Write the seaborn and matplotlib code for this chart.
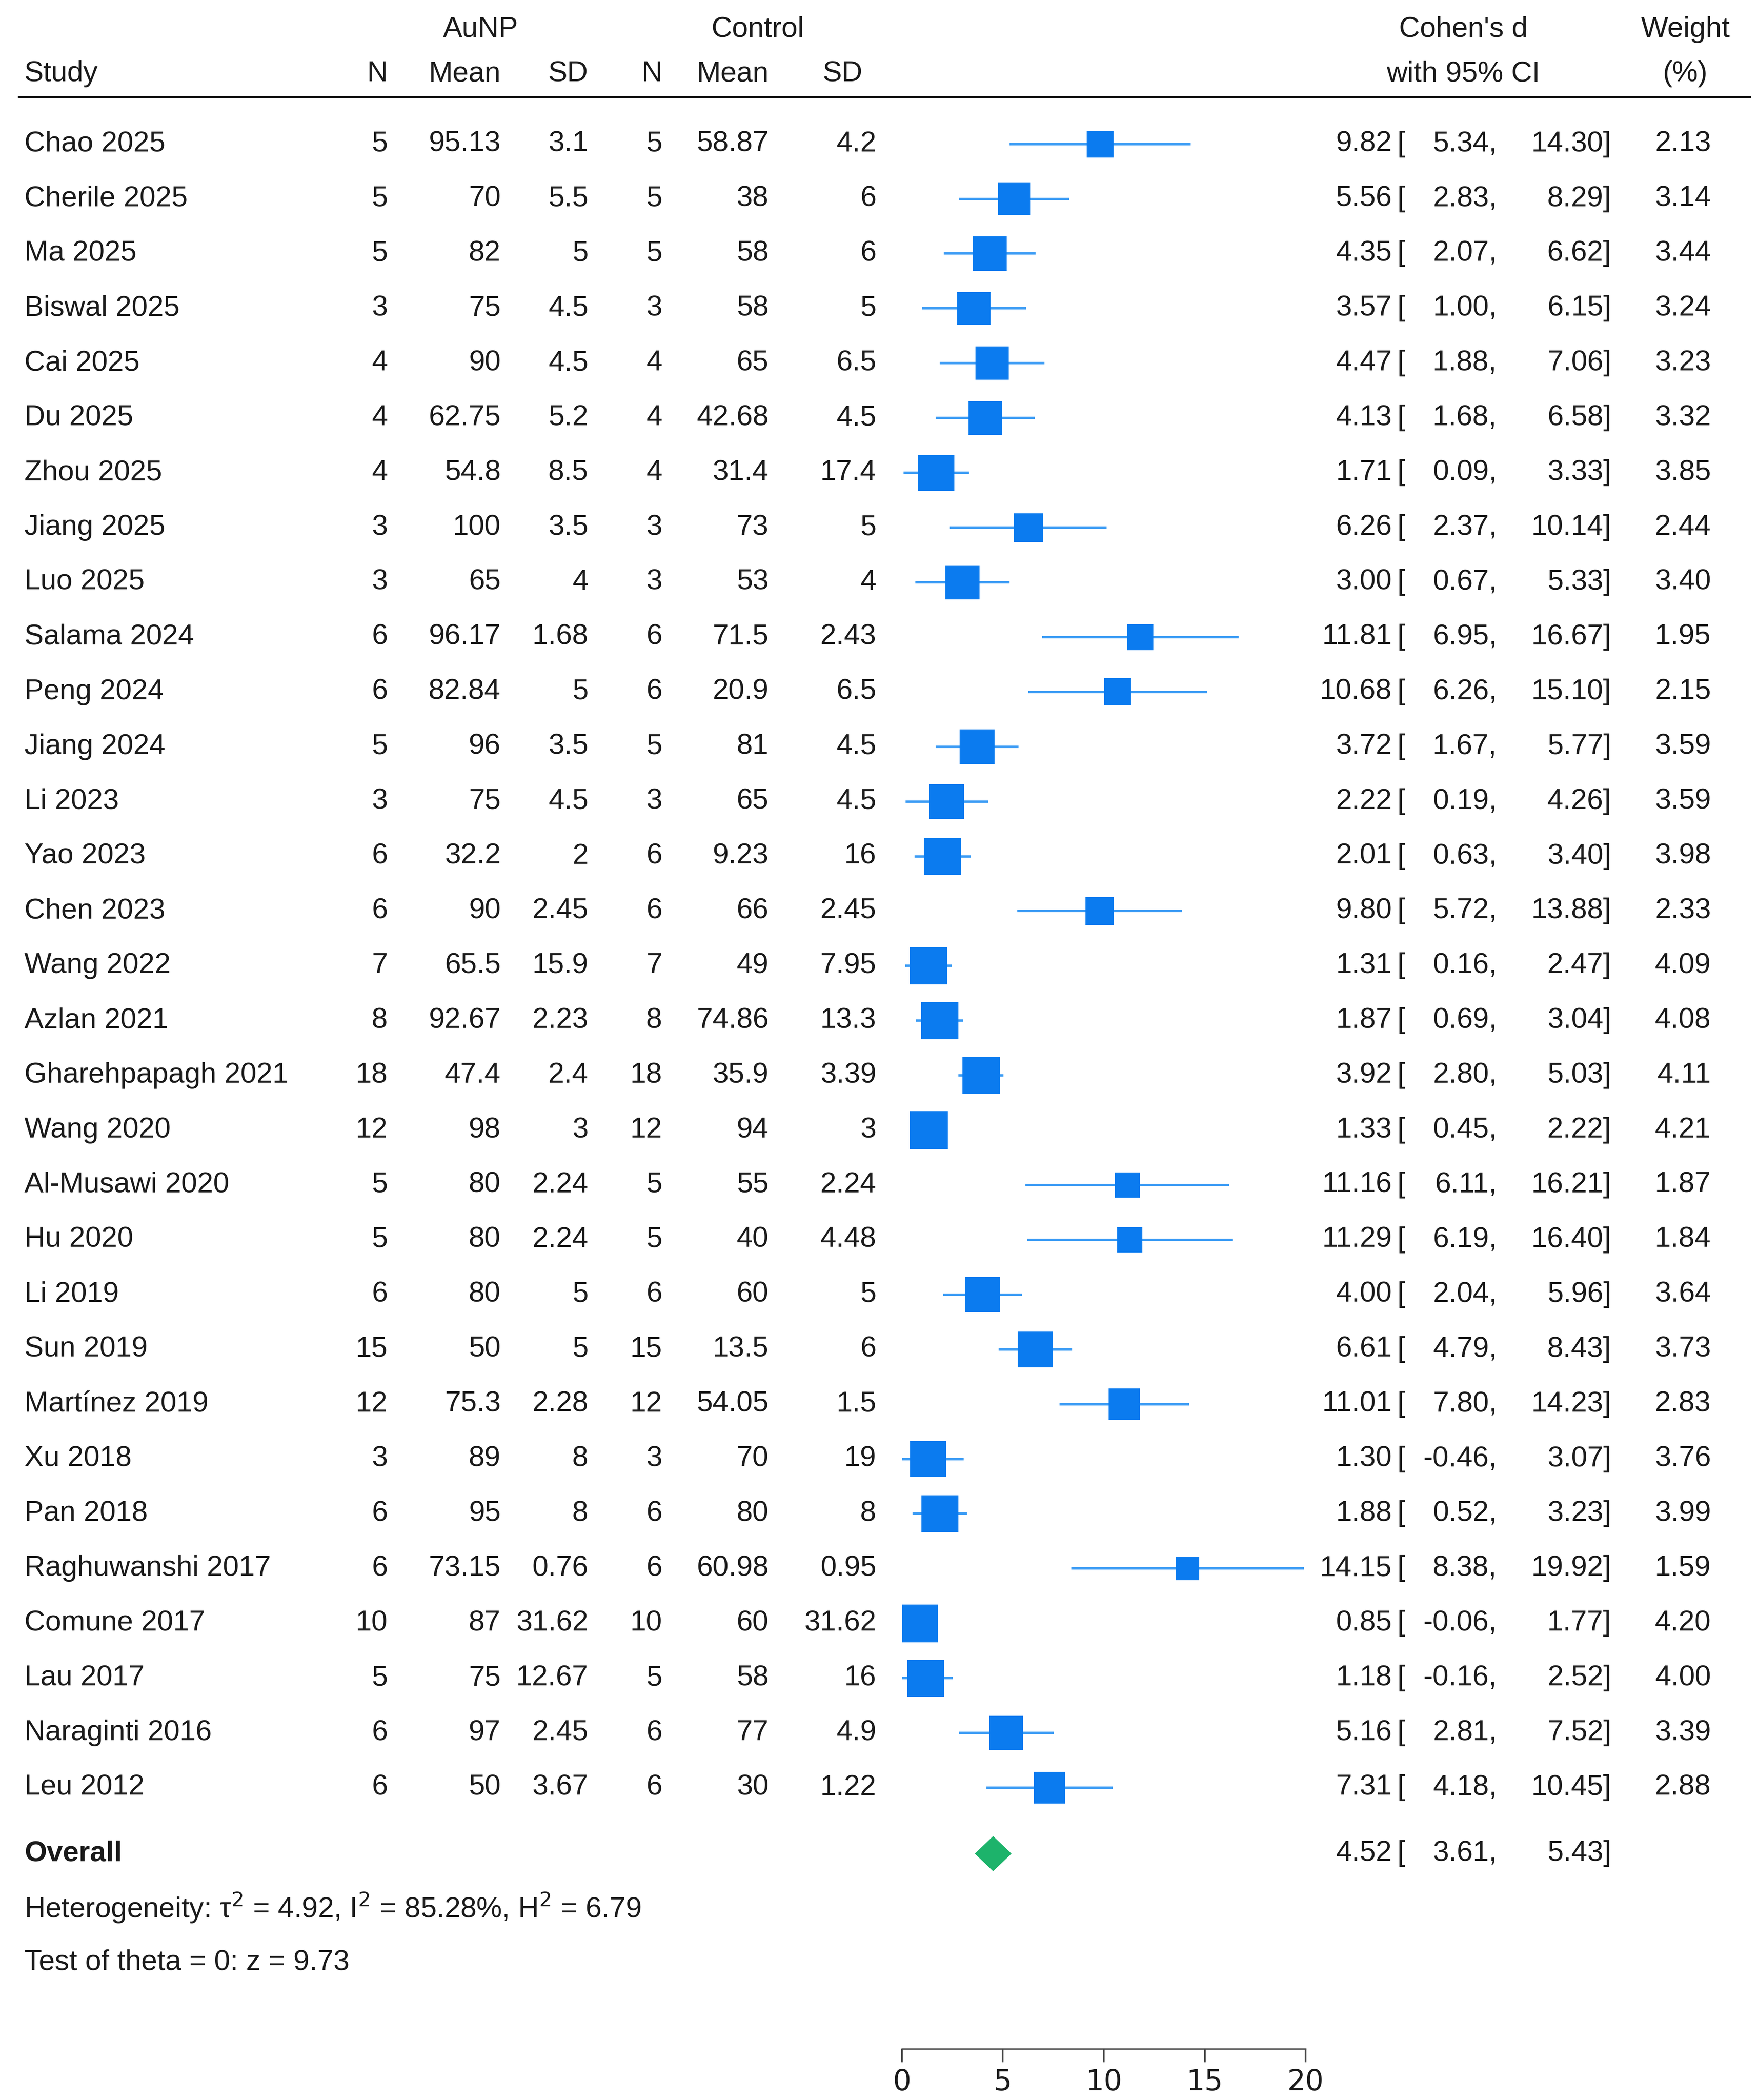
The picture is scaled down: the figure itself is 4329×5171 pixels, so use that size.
import matplotlib
matplotlib.use("Agg")
import matplotlib.pyplot as plt
import matplotlib.transforms as mtransforms
import seaborn as sns
import pandas as pd

studies = ["Chao 2025", "Cherile 2025", "Ma 2025", "Biswal 2025", "Cai 2025", "Du 2025", "Zhou 2025",
           "Jiang 2025", "Luo 2025", "Salama 2024", "Peng 2024", "Jiang 2024", "Li 2023", "Yao 2023",
           "Chen 2023", "Wang 2022", "Azlan 2021", "Gharehpapagh 2021", "Wang 2020", "Al-Musawi 2020",
           "Hu 2020", "Li 2019", "Sun 2019", "Martínez 2019", "Xu 2018", "Pan 2018", "Raghuwanshi 2017",
           "Comune 2017", "Lau 2017", "Naraginti 2016", "Leu 2012"]
n_t = ["5", "5", "5", "3", "4", "4", "4", "3", "3", "6", "6", "5", "3", "6", "6", "7", "8", "18", "12",
       "5", "5", "6", "15", "12", "3", "6", "6", "10", "5", "6", "6"]
mean_t = ["95.13", "70", "82", "75", "90", "62.75", "54.8", "100", "65", "96.17", "82.84", "96", "75",
          "32.2", "90", "65.5", "92.67", "47.4", "98", "80", "80", "80", "50", "75.3", "89", "95",
          "73.15", "87", "75", "97", "50"]
sd_t = ["3.1", "5.5", "5", "4.5", "4.5", "5.2", "8.5", "3.5", "4", "1.68", "5", "3.5", "4.5", "2",
        "2.45", "15.9", "2.23", "2.4", "3", "2.24", "2.24", "5", "5", "2.28", "8", "8", "0.76",
        "31.62", "12.67", "2.45", "3.67"]
n_c = n_t
mean_c = ["58.87", "38", "58", "58", "65", "42.68", "31.4", "73", "53", "71.5", "20.9", "81", "65",
          "9.23", "66", "49", "74.86", "35.9", "94", "55", "40", "60", "13.5", "54.05", "70", "80",
          "60.98", "60", "58", "77", "30"]
sd_c = ["4.2", "6", "6", "5", "6.5", "4.5", "17.4", "5", "4", "2.43", "6.5", "4.5", "4.5", "16",
        "2.45", "7.95", "13.3", "3.39", "3", "2.24", "4.48", "5", "6", "1.5", "19", "8", "0.95",
        "31.62", "16", "4.9", "1.22"]
d = [9.82, 5.56, 4.35, 3.57, 4.47, 4.13, 1.71, 6.26, 3.00, 11.81, 10.68, 3.72, 2.22, 2.01, 9.80,
     1.31, 1.87, 3.92, 1.33, 11.16, 11.29, 4.00, 6.61, 11.01, 1.30, 1.88, 14.15, 0.85, 1.18, 5.16, 7.31]
lo = [5.34, 2.83, 2.07, 1.00, 1.88, 1.68, 0.09, 2.37, 0.67, 6.95, 6.26, 1.67, 0.19, 0.63, 5.72,
      0.16, 0.69, 2.80, 0.45, 6.11, 6.19, 2.04, 4.79, 7.80, -0.46, 0.52, 8.38, -0.06, -0.16, 2.81, 4.18]
hi = [14.30, 8.29, 6.62, 6.15, 7.06, 6.58, 3.33, 10.14, 5.33, 16.67, 15.10, 5.77, 4.26, 3.40, 13.88,
      2.47, 3.04, 5.03, 2.22, 16.21, 16.40, 5.96, 8.43, 14.23, 3.07, 3.23, 19.92, 1.77, 2.52, 7.52, 10.45]
weight = [2.13, 3.14, 3.44, 3.24, 3.23, 3.32, 3.85, 2.44, 3.40, 1.95, 2.15, 3.59, 3.59, 3.98, 2.33,
          4.09, 4.08, 4.11, 4.21, 1.87, 1.84, 3.64, 3.73, 2.83, 3.76, 3.99, 1.59, 4.20, 4.00, 3.39, 2.88]
overall = (4.52, 3.61, 5.43)
x_ticks = [0, 5, 10, 15, 20]

df = pd.DataFrame({"study": studies, "d": d, "lo": lo, "hi": hi, "w": weight})
df["row"] = range(len(df))
df["size"] = df["w"] * 119

W, H = 1306, 1560  # layout reference grid
fig = plt.figure(figsize=(4329 / 300, 5171 / 300), dpi=300)
ax = fig.add_axes([670 / W, 1 - 1522 / H, 300 / W, 1522 / H])
ax.patch.set_alpha(0)

def py(p):
    return (p - 107) / 40.7

ax.set_ylim(py(1522), py(0))
ax.set_xlim(0, 20)

blue = "#0B7BEF"
line_blue = "#3A9BF5"
ink = "#1a1a1a"
fs = 17
plt.rcParams["font.family"] = "Liberation Sans"

ax.hlines(df["row"], df["lo"], df["hi"], color=line_blue, lw=1.4, zorder=1)
sns.scatterplot(data=df, x="d", y="row", size="size", sizes=(df["size"].min(), df["size"].max()),
                marker="s", color=blue, edgecolor="none", legend=False, ax=ax, zorder=2)

oy = py(1377)
dh = 0.32
ax.fill([overall[1], overall[0], overall[2], overall[0]], [oy, oy - dh, oy, oy + dh],
        color="#1DB36B", lw=0, zorder=3)

for s in ["top", "left", "right"]:
    ax.spines[s].set_visible(False)
ax.spines["bottom"].set_bounds(0, 20)
ax.spines["bottom"].set_color("#444444")
ax.set_yticks([])
ax.set_xticks(x_ticks)
ax.tick_params(axis="x", direction="out", length=8, width=1, colors="#444444", labelsize=fs,
               labelcolor=ink)
ax.set_xlabel("")
ax.set_ylabel("")

tr = mtransforms.blended_transform_factory(fig.transFigure, ax.transData)

def t(xp, y, s, ha="right", **kw):
    ax.text(xp / W, y, s, ha=ha, va="center", transform=tr, fontsize=fs, color=ink, clip_on=False, **kw)

# headers
t(357, py(22), "AuNP", ha="center")
t(563, py(22), "Control", ha="center")
t(1087, py(22), "Cohen's d", ha="center")
t(1252, py(22), "Weight", ha="center")
t(18, py(55), "Study", ha="left")
for xp, s in [(288, "N"), (372, "Mean"), (437, "SD"), (492, "N"), (571, "Mean"), (641, "SD")]:
    t(xp, py(55), s)
t(1087, py(55), "with 95% CI", ha="center")
t(1252, py(55), "(%)", ha="center")
fig.add_artist(plt.Line2D([14 / W, 1300 / W], [1 - 72 / H, 1 - 72 / H], color=ink, lw=1.2))

for i in range(len(studies)):
    t(18, i, studies[i], ha="left")
    t(288, i, n_t[i])
    t(372, i, mean_t[i])
    t(437, i, sd_t[i])
    t(492, i, n_c[i])
    t(571, i, mean_c[i])
    t(651, i, sd_c[i])
    t(1034, i, f"{d[i]:.2f}")
    t(1038, i, "[", ha="left")
    t(1112, i, f"{lo[i]:.2f},")
    t(1197, i, f"{hi[i]:.2f}]")
    t(1271, i, f"{weight[i]:.2f}")

t(18, oy, "Overall", ha="left", fontweight="bold")
t(1034, oy, f"{overall[0]:.2f}")
t(1038, oy, "[", ha="left")
t(1112, oy, f"{overall[1]:.2f},")
t(1197, oy, f"{overall[2]:.2f}]")
t(18, py(1417), "Heterogeneity: τ$^2$ = 4.92, I$^2$ = 85.28%, H$^2$ = 6.79", ha="left")
t(18, py(1458), "Test of theta = 0: z = 9.73", ha="left")

fig.savefig("out.png", dpi=300, facecolor="white")
